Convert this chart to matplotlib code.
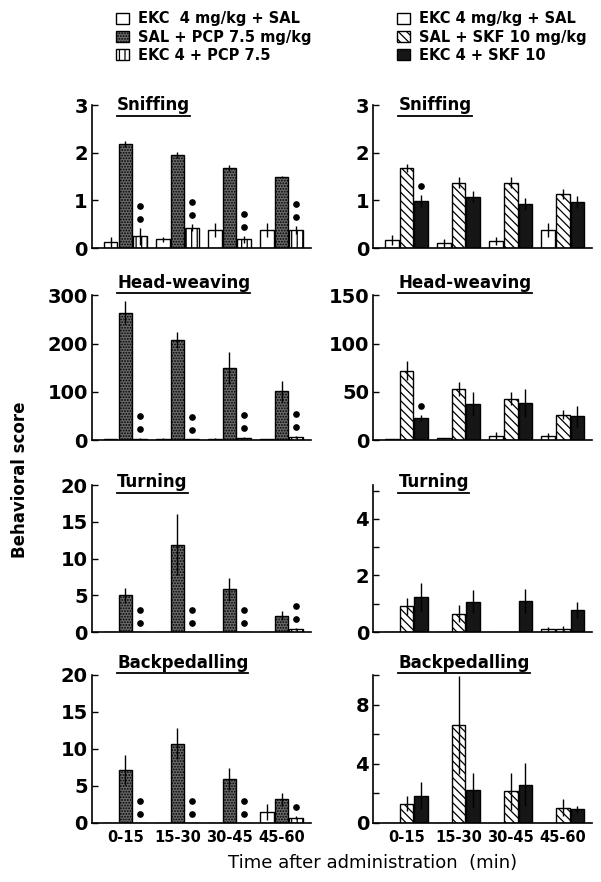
import matplotlib
matplotlib.use('Agg')
import matplotlib.pyplot as plt
import matplotlib.transforms as mtransforms
from matplotlib.patches import Patch
from matplotlib.lines import Line2D
import numpy as np

# Datos
periods = ['0-15', '15-30', '30-45', '45-60']
pcp_labels = ['EKC  4 mg/kg + SAL', 'SAL + PCP 7.5 mg/kg', 'EKC 4 + PCP 7.5']
skf_labels = ['EKC 4 mg/kg + SAL', 'SAL + SKF 10 mg/kg', 'EKC 4 + SKF 10']
titles = ['Sniffing', 'Head-weaving', 'Turning', 'Backpedalling']

# filas: EKC+SAL, SAL+droga, EKC+droga
sniff_pcp = [[0.13, 0.18, 0.38, 0.38], [2.18, 1.95, 1.68, 1.49], [0.25, 0.43, 0.18, 0.38]]
sniff_pcp_se = [[0.1, 0.06, 0.14, 0.14], [0.06, 0.07, 0.06, 0.03], [0.18, 0.08, 0.07, 0.08]]
head_pcp = [[2, 3, 3, 2], [264, 208, 150, 101], [3, 2, 4, 6]]
head_pcp_se = [[1, 1, 1, 1], [24, 16, 33, 21], [1, 1, 2, 2]]
turn_pcp = [[0, 0, 0, 0], [5.0, 11.9, 5.8, 2.2], [0, 0, 0, 0.4]]
turn_pcp_se = [[0, 0, 0, 0], [1.0, 4.2, 1.6, 0.6], [0, 0, 0, 0.1]]
back_pcp = [[0, 0, 0, 1.5], [7.2, 10.7, 5.9, 3.2], [0, 0, 0, 0.7]]
back_pcp_se = [[0, 0, 0, 1.1], [2.0, 2.1, 1.5, 0.9], [0, 0, 0, 0.2]]

sniff_skf = [[0.17, 0.11, 0.15, 0.38], [1.68, 1.37, 1.37, 1.13], [0.99, 1.08, 0.92, 0.97]]
sniff_skf_se = [[0.1, 0.08, 0.08, 0.15], [0.08, 0.12, 0.12, 0.1], [0.12, 0.12, 0.13, 0.13]]
head_skf = [[1, 1.8, 4.5, 4.5], [72, 52.8, 43, 26.5], [22.8, 37.8, 38.5, 24.5]]
head_skf_se = [[0.5, 0.5, 3.5, 3], [10, 7, 7, 5], [3, 12, 15, 11]]
turn_skf = [[0, 0, 0, 0.1], [0.92, 0.64, 0, 0.12], [1.25, 1.07, 1.1, 0.78]]
turn_skf_se = [[0, 0, 0, 0.08], [0.3, 0.3, 0, 0.08], [0.5, 0.4, 0.42, 0.3]]
back_skf = [[0, 0, 0, 0], [1.3, 6.6, 2.15, 1.04], [1.85, 2.2, 2.6, 0.92]]
back_skf_se = [[0, 0, 0, 0], [0.5, 3.3, 1.25, 0.55], [0.9, 1.15, 1.45, 0.26]]

# numero de asteriscos sobre la tercera barra
sig_pcp = [[2, 2, 2, 2], [2, 2, 2, 2], [2, 2, 2, 2], [2, 2, 2, 1]]
sig_skf = [[1, 0, 0, 0], [1, 0, 0, 0], [0, 0, 0, 0], [0, 0, 0, 0]]

# ejes
ylim_pcp = [3, 300, 20, 20]
yticks_pcp = [[0, 1, 2, 3], [0, 100, 200, 300], [0, 5, 10, 15, 20], [0, 5, 10, 15, 20]]
ylim_skf = [3, 150, 5.2, 10]
yticks_skf = [[0, 1, 2, 3], [0, 50, 100, 150], [0, 2, 4], [0, 4, 8]]
yminor_skf = [[], [], [1, 3, 5], [2, 6, 10]]

pcp_styles = [dict(facecolor='white'),
              dict(facecolor='#6a6a6a', hatch='......'),
              dict(facecolor='white', hatch='|||')]
skf_styles = [dict(facecolor='white'),
              dict(facecolor='white', hatch='\\\\\\\\'),
              dict(facecolor='#161616')]

plt.rcParams['font.family'] = 'DejaVu Sans'
plt.rcParams['hatch.linewidth'] = 0.9

fig = plt.figure(figsize=(6.01, 8.82), dpi=100)

col_x = [0.153, 0.621]
col_w = 0.364
row_b = [0.7188, 0.501, 0.2834, 0.0669]
row_h = [0.162, 0.164, 0.1667, 0.1678]
title_y = [0.965, 1.055, 0.985, 1.05]

offsets = [-0.28, 0.0, 0.28]
width = 0.26
x = np.arange(len(periods))

left_data = [(sniff_pcp, sniff_pcp_se), (head_pcp, head_pcp_se),
             (turn_pcp, turn_pcp_se), (back_pcp, back_pcp_se)]
right_data = [(sniff_skf, sniff_skf_se), (head_skf, head_skf_se),
              (turn_skf, turn_skf_se), (back_skf, back_skf_se)]

title_texts = []


def draw_panel(ax, means, errs, styles, sig, ymax, yticks, yminor, title, ty, bottom_row):
    for k in range(3):
        ax.bar(x + offsets[k], means[k], width, edgecolor='black', linewidth=1.0,
               zorder=2, **styles[k])
        m = np.array(means[k], dtype=float)
        e = np.array(errs[k], dtype=float)
        keep = e > 0
        if keep.any():
            ax.errorbar((x + offsets[k])[keep], m[keep], yerr=e[keep], fmt='none',
                        ecolor='black', elinewidth=1.0, capsize=0, zorder=3)
    # asteriscos
    for i, n in enumerate(sig):
        top = means[2][i] + errs[2][i]
        for j in range(n):
            tr = mtransforms.offset_copy(ax.transData, fig=fig, x=0, y=9 + 13 * j, units='dots')
            ax.plot([x[i] + offsets[2]], [top], 'o', color='black', ms=3.8,
                    transform=tr, clip_on=False, zorder=4)
    ax.set_xlim(-0.64, 3.56)
    ax.set_ylim(0, ymax)
    ax.spines['top'].set_visible(False)
    ax.spines['right'].set_visible(False)
    ax.spines['left'].set_linewidth(1.2)
    ax.spines['bottom'].set_linewidth(1.2)
    ax.set_yticks(yticks)
    ax.set_yticks(yminor, minor=True)
    ax.tick_params(axis='y', which='both', direction='in', length=4, width=1.0,
                   labelsize=14, pad=3)
    for lab in ax.get_yticklabels():
        lab.set_fontweight('bold')
    ax.set_xticks(x)
    if bottom_row:
        ax.set_xticklabels(periods, fontsize=10.5, fontweight='bold')
    else:
        ax.set_xticklabels([])
    ax.tick_params(axis='x', length=0, pad=5)
    t = ax.text(0.115, ty, title, transform=ax.transAxes, fontsize=12,
                fontweight='bold', ha='left', va='baseline')
    title_texts.append(t)


for r in range(4):
    axl = fig.add_axes([col_x[0], row_b[r], col_w, row_h[r]])
    draw_panel(axl, left_data[r][0], left_data[r][1], pcp_styles, sig_pcp[r],
               ylim_pcp[r], yticks_pcp[r], [], titles[r], title_y[r], r == 3)
    axr = fig.add_axes([col_x[1], row_b[r], col_w, row_h[r]])
    draw_panel(axr, right_data[r][0], right_data[r][1], skf_styles, sig_skf[r],
               ylim_skf[r], yticks_skf[r], yminor_skf[r], titles[r], title_y[r], r == 3)

# leyendas
h_pcp = [Patch(edgecolor='black', linewidth=1.0, **s) for s in pcp_styles]
h_skf = [Patch(edgecolor='black', linewidth=1.0, **s) for s in skf_styles]
leg_kw = dict(loc='upper left', frameon=False, fontsize=10.5, handlelength=0.9,
              handleheight=0.8, handletextpad=0.6, labelspacing=0.22,
              borderpad=0, borderaxespad=0)
lg1 = fig.legend(h_pcp, pcp_labels, bbox_to_anchor=(0.193, 0.987), **leg_kw)
lg2 = fig.legend(h_skf, skf_labels, bbox_to_anchor=(0.660, 0.987), **leg_kw)
for lg in (lg1, lg2):
    for t in lg.get_texts():
        t.set_fontweight('bold')

fig.text(0.033, 0.456, 'Behavioral score', rotation=90, ha='center', va='center',
         fontsize=12, fontweight='bold')
fig.text(0.62, 0.022, 'Time after administration  (min)', ha='center', va='center',
         fontsize=13)

# subrayado de los titulos
fig.canvas.draw()
renderer = fig.canvas.get_renderer()
inv = fig.transFigure.inverted()
for t in title_texts:
    bb = t.get_window_extent(renderer)
    (x0, y0), (x1, _) = inv.transform([(bb.x0, bb.y0 - 1.5), (bb.x1, bb.y0)])
    fig.add_artist(Line2D([x0, x1], [y0, y0], color='black', lw=1.3,
                          transform=fig.transFigure))

fig.savefig('out.png', dpi=100)
